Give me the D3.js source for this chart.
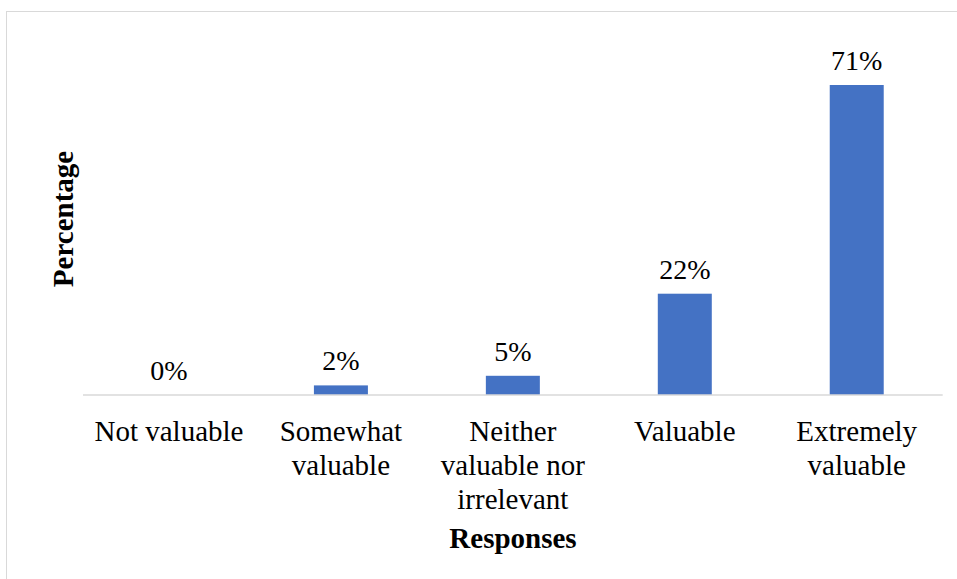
<!DOCTYPE html>
<html>
<head>
<meta charset="utf-8">
<script src="https://cdn.jsdelivr.net/npm/d3@7"></script>
<style>
  html, body { margin: 0; padding: 0; background: #fff; }
  svg { display: block; }
</style>
</head>
<body>
<script>
const categories = [["Not valuable"], ["Somewhat", "valuable"], ["Neither", "valuable nor", "irrelevant"], ["Valuable"], ["Extremely", "valuable"]];
const values = [0, 2.2, 4.4, 23.2, 71];
const dataLabels = ["0%", "2%", "5%", "22%", "71%"];
const xTitle = "Responses";
const yTitle = "Percentage";

const FONT = "Liberation Serif";
const W = 957, H = 579;
const svg = d3.select("body").append("svg").attr("width", W).attr("height", H);

svg.append("rect").attr("x", 6.5).attr("y", 11.5).attr("width", 1000).attr("height", 700)
  .attr("fill", "#fff").attr("stroke", "#d9d9d9").attr("stroke-width", 1);

const left = 83, right = 942.7, base = 395;
const x = d3.scaleBand().domain(d3.range(values.length)).range([left, right])
  .paddingInner(0.686).paddingOuter(0.343);
const y = d3.scaleLinear().domain([0, 80]).range([base, base - 80 * (310 / 71)]);

svg.selectAll("rect.bar").data(values).join("rect").attr("class", "bar")
  .attr("x", (d, i) => x(i)).attr("width", x.bandwidth())
  .attr("y", d => y(d)).attr("height", d => y(0) - y(d))
  .attr("fill", "#4472C4");

svg.append("line").attr("x1", left).attr("x2", right).attr("y1", base).attr("y2", base)
  .attr("stroke", "#d9d9d9").attr("stroke-width", 1.5);

svg.selectAll("text.lbl").data(values).join("text").attr("class", "lbl")
  .attr("font-family", FONT)
  .attr("x", (d, i) => x(i) + x.bandwidth() / 2)
  .attr("y", d => y(d) - 15)
  .attr("text-anchor", "middle").attr("font-size", 28)
  .text((d, i) => dataLabels[i]);

const cat = svg.selectAll("text.cat").data(categories).join("text").attr("class", "cat")
  .attr("font-family", FONT)
  .attr("text-anchor", "middle").attr("font-size", 29);
cat.each(function(lines, i) {
  const t = d3.select(this);
  lines.forEach((ln, j) => {
    t.append("tspan").attr("x", x(i) + x.bandwidth() / 2).attr("y", 441 + j * 34).text(ln);
  });
});

svg.append("text").attr("font-family", FONT).attr("x", 513).attr("y", 548).attr("text-anchor", "middle")
  .attr("font-size", 29).attr("font-weight", "bold").text(xTitle);

svg.append("text").attr("font-family", FONT).attr("transform", "translate(73,219) rotate(-90)")
  .attr("text-anchor", "middle").attr("font-size", 29).attr("font-weight", "bold").text(yTitle);
</script>
</body>
</html>
